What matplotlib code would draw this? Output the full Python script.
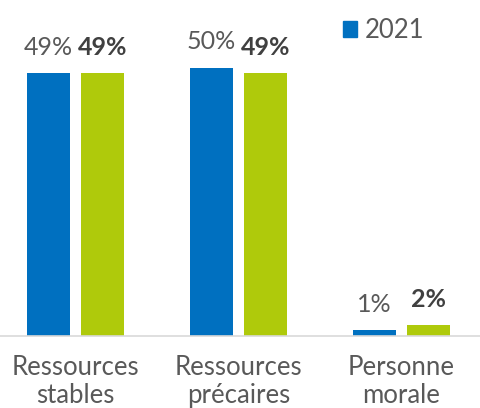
import matplotlib
matplotlib.use("Agg")
import matplotlib.pyplot as plt
import numpy as np
from matplotlib.patches import Patch

categories = ["Ressources\nstables", "Ressources\nprécaires", "Personne\nmorale"]
series_names = ["2021", "2022"]
values_2021 = [49, 50, 1]
values_2022 = [49, 49, 2]

plt.rcParams['font.family'] = ['Lato', 'DejaVu Sans']

fig = plt.figure(figsize=(4.8, 4.08), dpi=100)
ax = fig.add_axes([0, (408 - 335.7) / 408, 1, 335.7 / 408])

x = np.arange(len(categories))
w = 0.264
off = 0.166
c_blue = "#0070C0"
c_green = "#AFCA0B"
b1 = ax.bar(x - off, values_2021, w, color=c_blue, label=series_names[0])
b2 = ax.bar(x + off, values_2022, w, color=c_green, label=series_names[1])

for xi, v in zip(x, values_2021):
    ax.annotate(f"{v}%", (xi - off, v), xytext=(0, 13.5), textcoords="offset points",
                ha="center", va="baseline", fontsize=18, color="#595959")
for xi, v in zip(x, values_2022):
    ax.annotate(f"{v}%", (xi + off, v), xytext=(0, 13), textcoords="offset points",
                ha="center", va="baseline", fontsize=18, color="#404040", fontweight="bold")

ax.set_xlim(-75.5 / 163, (480 - 75.5) / 163)
ax.set_ylim(0, 335.7 / 5.354)
ax.set_xticks(x)
ax.set_xticklabels(categories, fontsize=18.5, color="#595959", linespacing=1.15)
ax.tick_params(axis="x", length=0, pad=14)
ax.set_yticks([])
for s in ["top", "left", "right"]:
    ax.spines[s].set_visible(False)
ax.spines["bottom"].set_color("#D9D9D9")
ax.spines["bottom"].set_linewidth(1.2)

leg = ax.legend(handles=[Patch(color=c_blue)], labels=[series_names[0]],
                loc="upper left", bbox_to_anchor=(320 / 480, 1 + 5 / 335.7),
                frameon=False, fontsize=18.5, handlelength=0.55, handleheight=0.55,
                handletextpad=0.3, labelcolor="#595959")

fig.savefig("out.png", dpi=100)
